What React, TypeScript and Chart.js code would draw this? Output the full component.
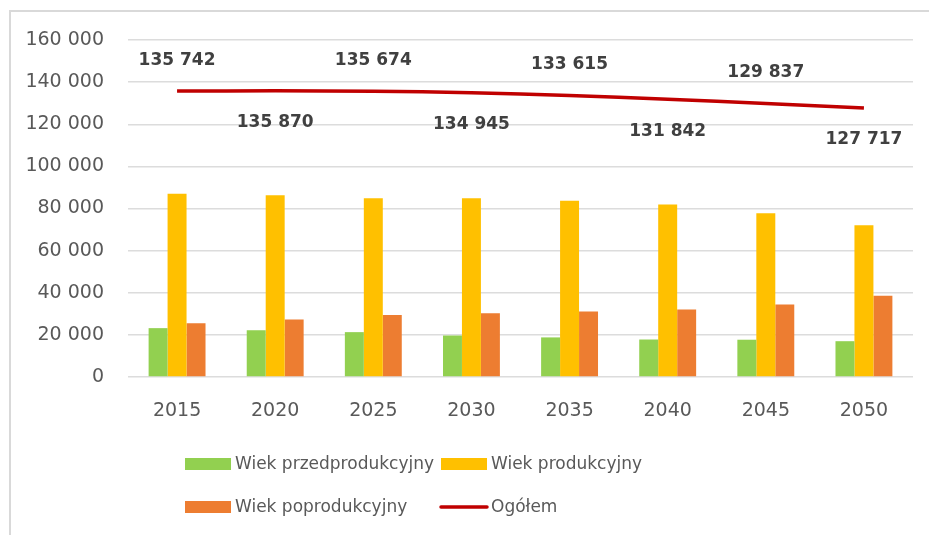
import React, { useEffect, useRef } from "react";
import { Chart, registerables } from "chart.js";

Chart.register(...registerables);

const categories = ["2015", "2020", "2025", "2030", "2035", "2040", "2045", "2050"];
const preProductive = [23200, 22200, 21300, 19700, 18800, 17800, 17700, 17000];
const productive = [87000, 86300, 84900, 84900, 83700, 81900, 77700, 72100];
const postProductive = [25500, 27300, 29400, 30300, 31100, 32100, 34400, 38600];
const total = [135742, 135870, 135674, 134945, 133615, 131842, 129837, 127717];
const seriesNames = ["Wiek przedprodukcyjny", "Wiek produkcyjny", "Wiek poprodukcyjny", "Ogółem"];
const yMax = 160000;
const yStep = 20000;

const fmt = (n: number) => Math.round(n).toString().replace(/\B(?=(\d{3})+(?!\d))/g, " ");

const FONT = '"DejaVu Sans", sans-serif';

const totalLabelsPlugin = {
  id: "totalLabels",
  afterDatasetsDraw(chart: any) {
    const idx = chart.data.datasets.findIndex((d: any) => d.type === "line");
    if (idx < 0) return;
    const meta = chart.getDatasetMeta(idx);
    const ctx = chart.ctx;
    ctx.save();
    ctx.font = `bold 17px ${FONT}`;
    ctx.fillStyle = "#404040";
    ctx.textAlign = "center";
    ctx.textBaseline = "middle";
    meta.data.forEach((pt: any, i: number) => {
      const v = chart.data.datasets[idx].data[i];
      const y = i % 2 === 0 ? pt.y - 31 : pt.y + 32;
      ctx.fillText(fmt(v), pt.x, y);
    });
    ctx.restore();
  },
};

const legendPlugin = {
  id: "gridLegend",
  afterDraw(chart: any) {
    const ctx = chart.ctx;
    const cols = [185, 441];
    const rows = [464, 507];
    ctx.save();
    ctx.font = `17px ${FONT}`;
    ctx.textBaseline = "middle";
    ctx.textAlign = "left";
    chart.data.datasets.forEach((d: any, i: number) => {
      const x = cols[i % 2];
      const y = rows[Math.floor(i / 2)];
      if (d.type === "line") {
        ctx.strokeStyle = d.borderColor;
        ctx.lineWidth = 3.5;
        ctx.lineCap = "round";
        ctx.beginPath();
        ctx.moveTo(x, y);
        ctx.lineTo(x + 46, y);
        ctx.stroke();
      } else {
        ctx.fillStyle = d.backgroundColor;
        ctx.fillRect(x, y - 6, 46, 12);
      }
      ctx.fillStyle = "#595959";
      ctx.fillText(d.label, x + 50, y + 1);
    });
    ctx.restore();
  },
};

export default function App() {
  const ref = useRef<HTMLCanvasElement | null>(null);
  useEffect(() => {
    if (!ref.current) return;
    const chart = new Chart(ref.current, {
      type: "bar",
      data: {
        labels: categories,
        datasets: [
          { type: "bar", label: seriesNames[0], data: preProductive, backgroundColor: "#92D050", categoryPercentage: 0.58, barPercentage: 1 } as any,
          { type: "bar", label: seriesNames[1], data: productive, backgroundColor: "#FFC000", categoryPercentage: 0.58, barPercentage: 1 } as any,
          { type: "bar", label: seriesNames[2], data: postProductive, backgroundColor: "#ED7D31", categoryPercentage: 0.58, barPercentage: 1 } as any,
          { type: "line", label: seriesNames[3], data: total, borderColor: "#C00000", backgroundColor: "#C00000", borderWidth: 3.5, pointRadius: 0, tension: 0.4, fill: false } as any,
        ],
      },
      options: {
        animation: false,
        responsive: false,
        maintainAspectRatio: false,
        layout: { padding: { left: 0, top: 40, right: 16, bottom: 108 } },
        plugins: { legend: { display: false }, tooltip: { enabled: false } },
        scales: {
          x: {
            grid: { display: false },
            border: { display: false },
            ticks: { color: "#595959", font: { family: FONT, size: 19 }, padding: 15 },
            afterFit: (s: any) => { s.height = 50; },
          },
          y: {
            min: 0,
            max: yMax,
            grid: { color: "#dcdcdc", lineWidth: 1.5, drawTicks: false },
            border: { display: false },
            ticks: { stepSize: yStep, color: "#595959", font: { family: FONT, size: 19 }, padding: 24, callback: (v: any) => fmt(Number(v)) },
            afterFit: (s: any) => { s.width = 128; },
          },
        },
      },
      plugins: [totalLabelsPlugin, legendPlugin],
    });
    return () => chart.destroy();
  }, []);
  return (
    <div style={{ position: "fixed", left: 0, top: 0, width: 929, height: 535, background: "#fff", overflow: "hidden" }}>
      <div style={{ position: "absolute", left: 9, top: 10, width: 3000, height: 3000, borderTop: "2px solid #d9d9d9", borderLeft: "2px solid #d9d9d9" }} />
      <canvas ref={ref} width={929} height={535} style={{ position: "absolute", left: 0, top: 0, width: 929, height: 535 }} />
    </div>
  );
}
